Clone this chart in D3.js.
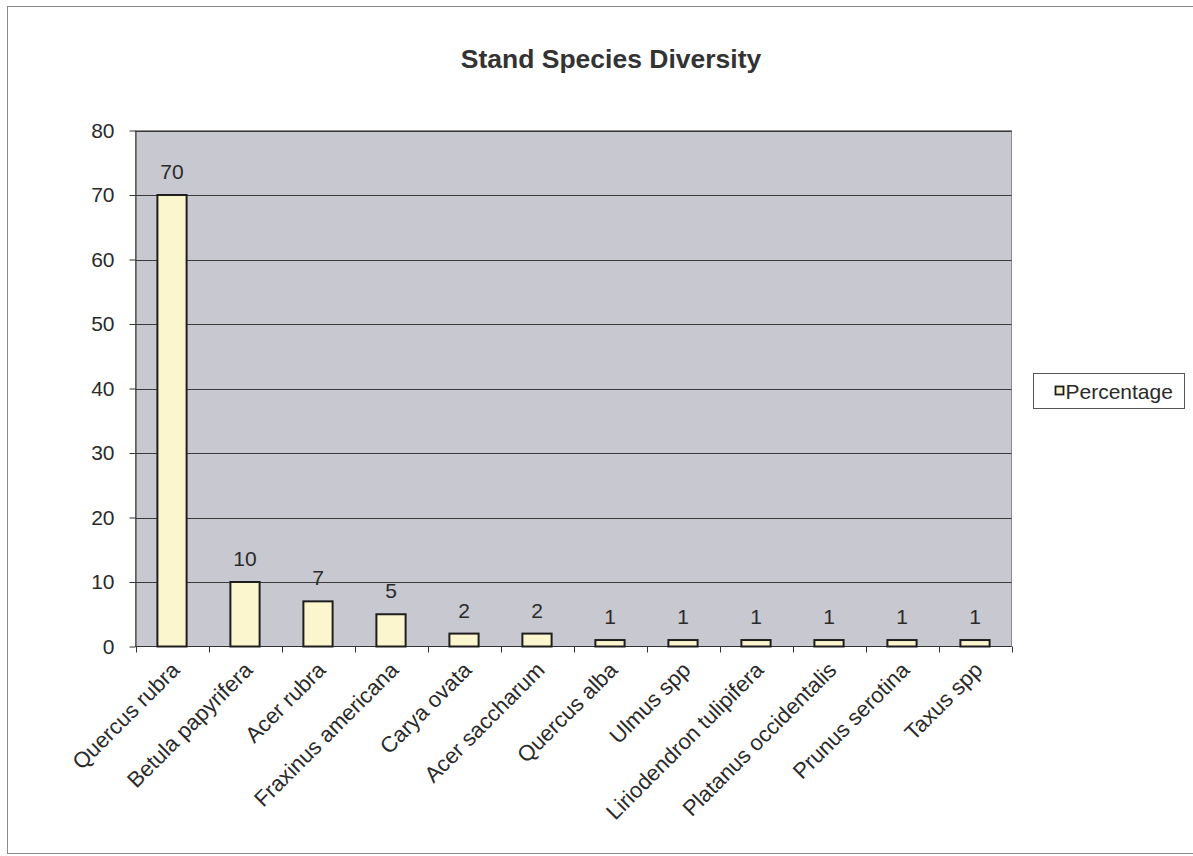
<!DOCTYPE html>
<html>
<head>
<meta charset="utf-8">
<script src="https://cdn.jsdelivr.net/npm/d3@7/dist/d3.min.js"></script>
<style>
  html, body { margin: 0; padding: 0; background: #ffffff; }
  svg { display: block; font-family: "Liberation Sans", Arial, sans-serif; }
</style>
</head>
<body>
<svg id="chart" width="1193" height="856"></svg>
<script>
// Species share of the stand (percent)
const species = [
  "Quercus rubra", "Betula papyrifera", "Acer rubra", "Fraxinus americana",
  "Carya ovata", "Acer saccharum", "Quercus alba", "Ulmus spp",
  "Liriodendron tulipifera", "Platanus occidentalis", "Prunus serotina", "Taxus spp"
];
const percentage = [70, 10, 7, 5, 2, 2, 1, 1, 1, 1, 1, 1];
const yTicks = [0, 10, 20, 30, 40, 50, 60, 70, 80];
const chartTitle = "Stand Species Diversity";
const seriesName = "Percentage";

const svg = d3.select("#chart");
const W = 1193, H = 856;
const plot = { left: 135.5, right: 1011.5, top: 130.5, bottom: 646.5 };

const textColor = "#2a2a2a";
const barFill = "#fcf6cf";
const barStroke = "#1e1e1e";
const plotBg = "#c8c8d0";

// outer chart frame
svg.append("rect")
  .attr("x", 7.5).attr("y", 6.5)
  .attr("width", W + 10).attr("height", 847)
  .attr("fill", "#ffffff")
  .attr("stroke", "#8a8a8a").attr("stroke-width", 1);

const x = d3.scaleBand()
  .domain(species)
  .range([plot.left, plot.right])
  .paddingInner(0.6)
  .paddingOuter(0.3);

const y = d3.scaleLinear()
  .domain([0, 80])
  .range([plot.bottom, plot.top]);

// plot area background
svg.append("rect")
  .attr("x", plot.left).attr("y", plot.top)
  .attr("width", plot.right - plot.left).attr("height", plot.bottom - plot.top)
  .attr("fill", plotBg)
  .attr("stroke", "#8c8c8c").attr("stroke-width", 1);

// horizontal gridlines
svg.append("g")
  .selectAll("line")
  .data(yTicks.filter(v => v > 0))
  .join("line")
  .attr("x1", plot.left).attr("x2", plot.right)
  .attr("y1", d => Math.round(y(d)) + 0.5).attr("y2", d => Math.round(y(d)) + 0.5)
  .attr("stroke", "#3a3a3a").attr("stroke-width", 1);

// y axis
const yAxis = svg.append("g")
  .attr("transform", `translate(${plot.left},0)`)
  .call(d3.axisLeft(y).tickValues(yTicks).tickSize(6).tickPadding(15).tickSizeOuter(0));
yAxis.select(".domain").attr("stroke", "#333");
yAxis.selectAll(".tick line").attr("stroke", "#333");
yAxis.selectAll(".tick text")
  .attr("fill", textColor)
  .attr("font-size", 21)
  .attr("font-family", "'Liberation Sans', Arial, sans-serif");

// x axis line with ticks at the category boundaries
const step = x.step();
const boundaries = d3.range(species.length + 1).map(i => plot.left + i * step);
svg.append("line")
  .attr("x1", plot.left).attr("x2", plot.right)
  .attr("y1", plot.bottom).attr("y2", plot.bottom)
  .attr("stroke", "#333").attr("stroke-width", 1);
svg.append("g")
  .selectAll("line")
  .data(boundaries)
  .join("line")
  .attr("x1", d => Math.round(d) + 0.5).attr("x2", d => Math.round(d) + 0.5)
  .attr("y1", plot.bottom).attr("y2", plot.bottom + 6)
  .attr("stroke", "#333").attr("stroke-width", 1);

// bars
svg.append("g")
  .selectAll("rect")
  .data(species.map((s, i) => ({ s, v: percentage[i] })))
  .join("rect")
  .attr("x", d => x(d.s))
  .attr("y", d => y(d.v))
  .attr("width", x.bandwidth())
  .attr("height", d => y(0) - y(d.v))
  .attr("fill", barFill)
  .attr("stroke", barStroke)
  .attr("stroke-width", 2);

// value labels
svg.append("g")
  .selectAll("text")
  .data(species.map((s, i) => ({ s, v: percentage[i] })))
  .join("text")
  .attr("x", d => x(d.s) + x.bandwidth() / 2)
  .attr("y", d => y(d.v) - 16)
  .attr("text-anchor", "middle")
  .attr("font-size", 21)
  .attr("fill", textColor)
  .text(d => d.v);

// rotated category labels
svg.append("g")
  .selectAll("text")
  .data(species)
  .join("text")
  .attr("transform", d => `translate(${x(d) + x.bandwidth() / 2 - 2},${plot.bottom + 14}) rotate(-45)`)
  .attr("text-anchor", "end")
  .attr("dy", "0.7em")
  .attr("font-size", 22)
  .attr("fill", textColor)
  .text(d => d);

// title
svg.append("text")
  .attr("x", 611)
  .attr("y", 68)
  .attr("text-anchor", "middle")
  .attr("font-size", 26.5)
  .attr("font-weight", "bold")
  .attr("fill", "#333")
  .text(chartTitle);

// legend
const lg = svg.append("g").attr("transform", "translate(1033.5,373.5)");
lg.append("rect")
  .attr("width", 151).attr("height", 35)
  .attr("fill", "#ffffff")
  .attr("stroke", "#555").attr("stroke-width", 1);
lg.append("rect")
  .attr("x", 22).attr("y", 13)
  .attr("width", 8).attr("height", 8)
  .attr("fill", barFill)
  .attr("stroke", barStroke).attr("stroke-width", 1.8);
lg.append("text")
  .attr("x", 32)
  .attr("y", 25)
  .attr("font-size", 21)
  .attr("fill", textColor)
  .text(seriesName);
</script>
</body>
</html>
